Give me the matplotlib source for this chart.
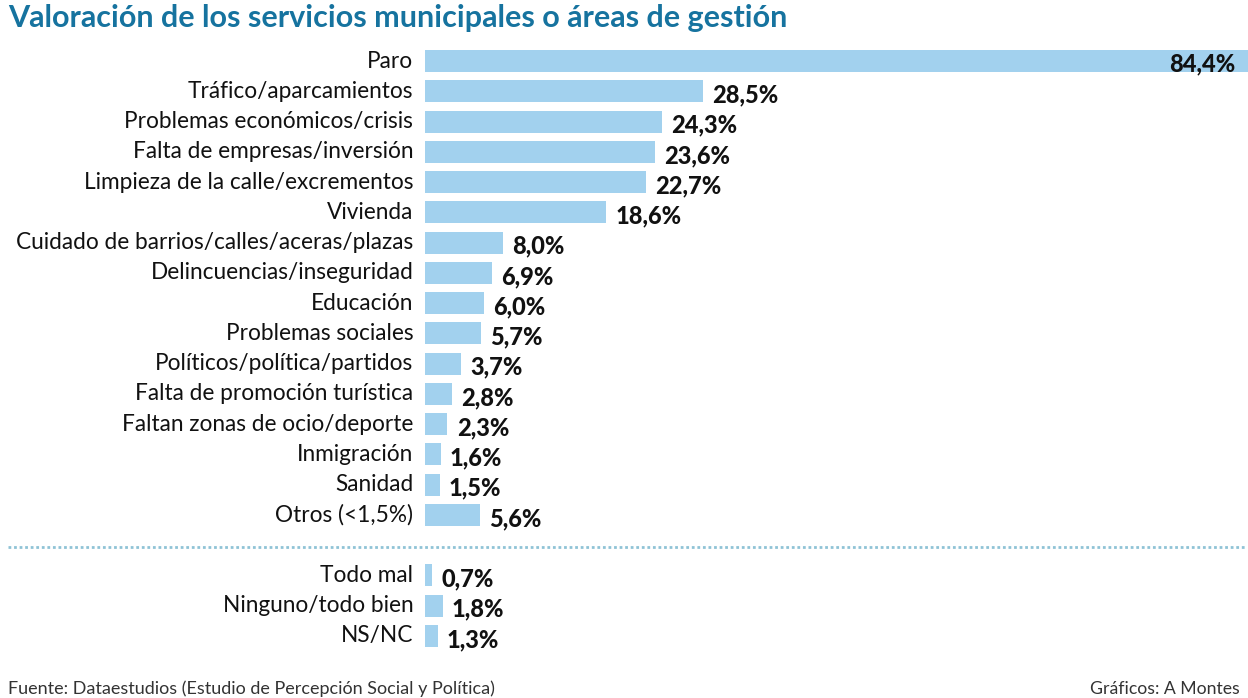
import matplotlib
matplotlib.use('Agg')
import matplotlib.pyplot as plt

plt.rcParams['font.family'] = ['Lato', 'DejaVu Sans']

# main answers
categories = ['Paro', 'Tráfico/aparcamientos', 'Problemas económicos/crisis',
              'Falta de empresas/inversión', 'Limpieza de la calle/excrementos',
              'Vivienda', 'Cuidado de barrios/calles/aceras/plazas',
              'Delincuencias/inseguridad', 'Educación', 'Problemas sociales',
              'Políticos/política/partidos', 'Falta de promoción turística',
              'Faltan zonas de ocio/deporte', 'Inmigración', 'Sanidad',
              'Otros (<1,5%)']
values = [84.4, 28.5, 24.3, 23.6, 22.7, 18.6, 8.0, 6.9, 6.0, 5.7, 3.7,
          2.8, 2.3, 1.6, 1.5, 5.6]

# other answers, below the separator
extra_categories = ['Todo mal', 'Ninguno/todo bien', 'NS/NC']
extra_values = [0.7, 1.8, 1.3]

W, H = 1248, 698
fig = plt.figure(figsize=(W / 100, H / 100), dpi=100)
ax = fig.add_axes([425 / W, 1 - 651 / H, 823 / W, (651 - 46) / H])

bar_color = '#a2d1ee'
ypos = list(range(len(categories)))
extra_ypos = [len(categories) + 1 + i for i in range(len(extra_categories))]

ax.barh(ypos, values, height=0.72, color=bar_color)
ax.barh(extra_ypos, extra_values, height=0.72, color=bar_color)

ax.set_xlim(0, 84.4)
ax.set_ylim(19.5, -0.5)
ax.axis('off')

def fmt(v):
    return f'{v:.1f}'.replace('.', ',') + '%'

all_y = ypos + extra_ypos
all_v = values + extra_values
all_c = categories + extra_categories
for y, v, c in zip(all_y, all_v, all_c):
    ax.text(-1.2, y, c, ha='right', va='center', fontsize=16.3, color='#111111')
    if v > 80:
        ax.text(v - 1.3, y + 0.08, fmt(v), ha='right', va='center',
                fontsize=17, fontweight='black', color='#111111')
    else:
        ax.text(v + 0.95, y + 0.12, fmt(v), ha='left', va='center',
                fontsize=17, fontweight='black', color='#111111')

# dotted separator
ax.axhline(16.05, xmin=(8 - 425) / 823, xmax=(1245 - 425) / 823,
           color='#8fc3d6', linestyle=(0, (1, 1)), linewidth=2, clip_on=False)

fig.text(8 / W, 1 - 18 / H, 'Valoración de los servicios municipales o áreas de gestión',
         ha='left', va='center', fontsize=22, fontweight='bold', color='#16739f')
fig.text(8 / W, 1 - 689 / H, 'Fuente: Dataestudios (Estudio de Percepción Social y Política)',
         ha='left', va='center', fontsize=13, color='#333333')
fig.text(1240 / W, 1 - 689 / H, 'Gráficos: A Montes',
         ha='right', va='center', fontsize=12.7, color='#333333')

fig.savefig('out.png', dpi=100)
